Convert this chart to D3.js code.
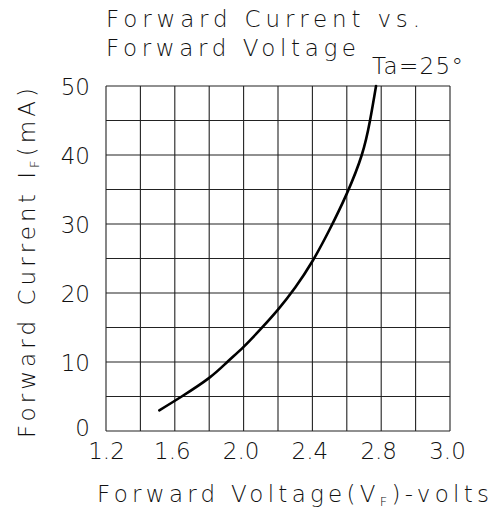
<!DOCTYPE html>
<html>

<head>
  <meta charset="utf-8">
  <title>Forward Current vs. Forward Voltage</title>
  <style>
    body {
      margin: 0;
      background: #fff;
    }

    text {
      font-family: "DejaVu Sans", sans-serif;
      font-weight: 200;
      fill: #111;
    }

    .grid line {
      stroke: #222;
      stroke-width: 1.1;
    }
  </style>
</head>

<body>
  <div id="chart"></div>
  <script src="https://d3js.org/d3.v7.min.js"></script>

  <script>
    // curve: forward voltage (V) vs forward current (mA)
    var voltage = [1.51, 1.64, 1.80, 1.905, 2.00, 2.10, 2.20, 2.30, 2.40, 2.50, 2.60, 2.687, 2.735, 2.77];
    var current = [3, 5, 7.7, 10, 12.2, 14.8, 17.6, 20.8, 24.6, 29.2, 34.4, 40, 45, 50];

    // tick labels as printed (the last column is labelled 3.0 on the sheet)
    var xTickValues = [1.2, 1.6, 2.0, 2.4, 2.8, 3.2];
    var xTickLabels = ["1.2", "1.6", "2.0", "2.4", "2.8", "3.0"];
    var yTickValues = [0, 10, 20, 30, 40, 50];

    var width = 490,
      height = 512;
    var margin = { top: 86, right: 40, bottom: 81, left: 106 };

    var svg = d3.select("#chart").append("svg")
      .attr("width", width)
      .attr("height", height);

    var x = d3.scaleLinear()
      .domain([1.2, 3.2])
      .range([margin.left, width - margin.right]);

    var y = d3.scaleLinear()
      .domain([0, 50])
      .range([height - margin.bottom, margin.top]);

    // grid (10 x 10 cells)
    var grid = svg.append("g").attr("class", "grid");

    grid.selectAll(".vx")
      .data(x.ticks(10))
      .enter().append("line")
      .attr("x1", function (d) { return x(d); })
      .attr("x2", function (d) { return x(d); })
      .attr("y1", y(0))
      .attr("y2", y(50));

    grid.selectAll(".hy")
      .data(y.ticks(10))
      .enter().append("line")
      .attr("x1", x(1.2))
      .attr("x2", x(3.2))
      .attr("y1", function (d) { return y(d); })
      .attr("y2", function (d) { return y(d); });

    // tick labels
    var xAxis = svg.append("g")
      .attr("transform", "translate(0," + y(0) + ")")
      .call(d3.axisBottom(x)
        .tickValues(xTickValues)
        .tickSize(0)
        .tickPadding(11)
        .tickFormat(function (d, i) { return xTickLabels[i]; }));
    xAxis.select(".domain").remove();
    xAxis.selectAll("text")
      .attr("font-size", 23)
      .attr("font-family", null)
      .attr("dx", function (d, i) { return i === 0 ? 0 : -3; })
      .attr("dy", "0.72em");

    var yAxis = svg.append("g")
      .attr("transform", "translate(" + x(1.2) + ",0)")
      .call(d3.axisLeft(y)
        .tickValues(yTickValues)
        .tickSize(0)
        .tickPadding(16));
    yAxis.select(".domain").remove();
    yAxis.selectAll("text")
      .attr("font-size", 23)
      .attr("font-family", null)
      .attr("dy", function (d) { return d === 0 ? "0.2em" : "0.36em"; });

    // the curve
    var line = d3.line()
      .x(function (d, i) { return x(voltage[i]); })
      .y(function (d) { return y(d); })
      .curve(d3.curveNatural);

    svg.append("path")
      .datum(current)
      .attr("d", line)
      .attr("fill", "none")
      .attr("stroke", "#000")
      .attr("stroke-width", 2.6)
      .attr("stroke-linecap", "round");

    // titles
    svg.append("text")
      .attr("x", 106)
      .attr("y", 27)
      .attr("font-size", 23)
      .attr("textLength", 314)
      .attr("lengthAdjust", "spacing")
      .text("Forward Current vs.");

    svg.append("text")
      .attr("x", 106)
      .attr("y", 56)
      .attr("font-size", 23)
      .attr("textLength", 250)
      .attr("lengthAdjust", "spacing")
      .text("Forward Voltage");

    svg.append("text")
      .attr("x", 372)
      .attr("y", 74)
      .attr("font-size", 23)
      .attr("textLength", 91)
      .attr("lengthAdjust", "spacing")
      .text("Ta=25°");

    // x axis title
    var xt = svg.append("text")
      .attr("x", 97)
      .attr("y", 502)
      .attr("font-size", 23)
      .attr("textLength", 392)
      .attr("lengthAdjust", "spacing");
    xt.append("tspan").text("Forward Voltage(V");
    xt.append("tspan").attr("font-size", 13).attr("dy", 4).text("F");
    xt.append("tspan").attr("dy", -4).text(")-volts");

    // y axis title
    var yt = svg.append("text")
      .attr("transform", "translate(35,438) rotate(-90)")
      .attr("font-size", 23)
      .attr("textLength", 350)
      .attr("lengthAdjust", "spacing");
    yt.append("tspan").text("Forward Current I");
    yt.append("tspan").attr("font-size", 13).attr("dy", 4).text("F");
    yt.append("tspan").attr("dy", -4).text("(mA)");
  </script>
</body>

</html>
